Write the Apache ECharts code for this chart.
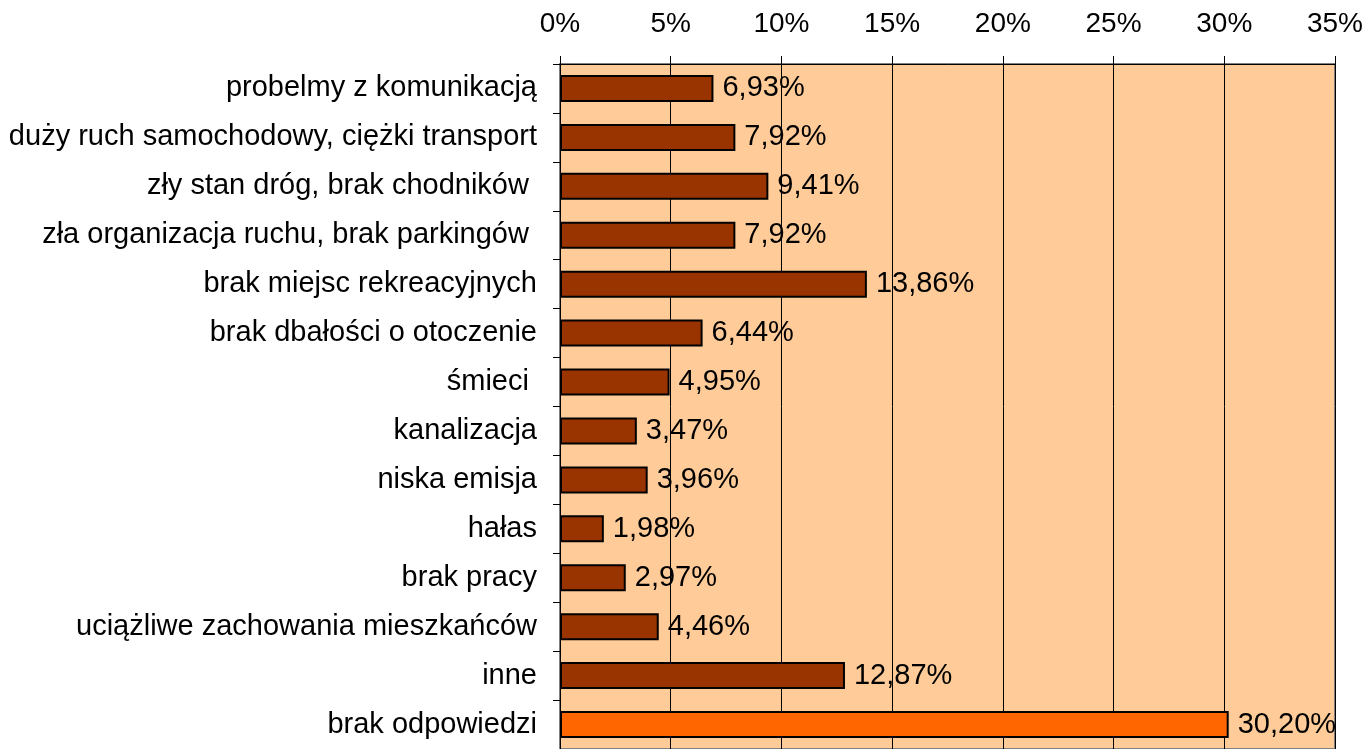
<!DOCTYPE html>
<html>
<head>
<meta charset="UTF-8">
<title></title>
<script src="https://cdn.jsdelivr.net/npm/echarts@6/dist/echarts.min.js"></script>
<style>
  html, body { margin: 0; padding: 0; background: #fff; }
  #main { width: 1366px; height: 749px; }
</style>
</head>
<body>
<div id="main"></div>
<script>
    var categories = [
        'probelmy z komunikacją',
        'duży ruch samochodowy, ciężki transport',
        'zły stan dróg, brak chodników ',
        'zła organizacja ruchu, brak parkingów ',
        'brak miejsc rekreacyjnych',
        'brak dbałości o otoczenie',
        'śmieci ',
        'kanalizacja',
        'niska emisja',
        'hałas',
        'brak pracy',
        'uciążliwe zachowania mieszkańców',
        'inne',
        'brak odpowiedzi'
    ];
    var values = [6.93, 7.92, 9.41, 7.92, 13.86, 6.44, 4.95, 3.47, 3.96, 1.98, 2.97, 4.46, 12.87, 30.20];
    var highlighted = ['brak odpowiedzi'];

    var myChart = echarts.init(document.getElementById('main'));

    var font = 'Arial, "Liberation Sans", sans-serif';

    var option = {
        animation: false,
        textStyle: { fontFamily: font },
        grid: {
            left: 560,
            right: 31,
            top: 64,
            height: 687,
            show: true,
            backgroundColor: '#FFCC99',
            borderColor: '#808080',
            borderWidth: 2
        },
        xAxis: {
            type: 'value',
            position: 'top',
            min: 0,
            max: 35,
            interval: 5,
            axisLine: { show: true, lineStyle: { color: '#000', width: 1 } },
            axisTick: { show: true, length: 8, lineStyle: { color: '#000' } },
            axisLabel: { formatter: '{value}%', fontSize: 28, color: '#000', margin: 26, fontFamily: font },
            splitLine: { show: true, lineStyle: { color: '#000', width: 1 } }
        },
        yAxis: {
            type: 'category',
            inverse: true,
            data: categories,
            axisLine: { show: true, lineStyle: { color: '#000', width: 1 } },
            axisTick: { show: true, length: 7, lineStyle: { color: '#000' } },
            axisLabel: { fontSize: 29, color: '#000', margin: 23, fontFamily: font }
        },
        series: [{
            type: 'bar',
            barWidth: 27,
            data: values.map(function (v, i) {
                var hi = highlighted.indexOf(categories[i]) >= 0;
                return { value: v, itemStyle: { color: hi ? '#FF6600' : '#993300' } };
            }),
            itemStyle: { borderColor: '#000', borderWidth: 2 },
            label: {
                show: true,
                position: 'right',
                distance: 9,
                fontSize: 29,
                color: '#000',
                fontFamily: font,
                formatter: function (p) { return p.value.toFixed(2).replace('.', ',') + '%'; }
            }
        }]
    };

    myChart.setOption(option);
</script>
</body>
</html>
